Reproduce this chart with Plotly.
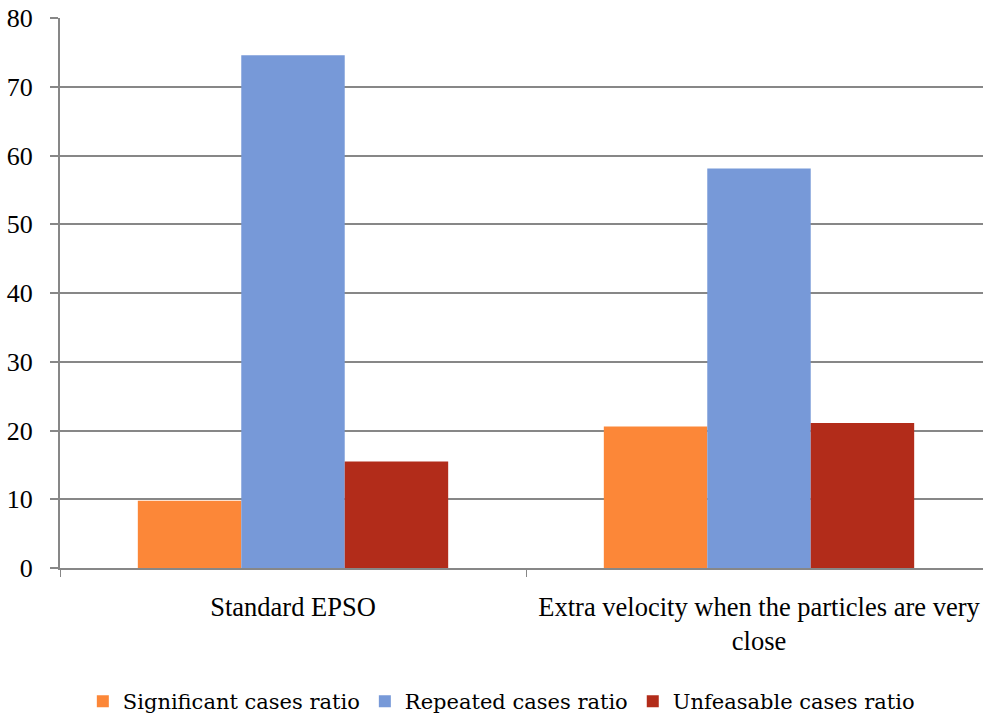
import plotly.graph_objects as go

# Ratios (%) for each EPSO variant
categories = ["Standard EPSO", "Extra velocity when the particles are very<br>close"]
series_names = ["Significant cases ratio", "Repeated cases ratio", "Unfeasable cases ratio"]
significant = [9.8, 20.6]
repeated = [74.6, 58.1]
unfeasable = [15.5, 21.1]
series_values = [significant, repeated, unfeasable]
series_colors = ["#FC8738", "#7799D8", "#B22C1A"]
y_ticks = [0, 10, 20, 30, 40, 50, 60, 70, 80]

GRID = "#878787"

fig = go.Figure()
for name, vals, color in zip(series_names, series_values, series_colors):
    fig.add_trace(go.Bar(
        x=categories, y=vals, name=name,
        marker=dict(color=color, line=dict(width=0)),
    ))

W, H = 983, 722
ml, mr, mt, mb = 60, 0, 18, 154
plot_w = W - ml - mr
plot_h = H - mt - mb
cat_px = 466  # pixel width of one category slot

fig.update_layout(
    width=W, height=H,
    margin=dict(l=ml, r=mr, t=mt, b=mb, pad=0),
    paper_bgcolor="white", plot_bgcolor="white",
    barmode="group", bargap=0.334, bargroupgap=0,
    font=dict(family="Times New Roman", size=26, color="black"),
    showlegend=True,
    legend=dict(
        orientation="h", xref="container", yref="container",
        x=0.51, xanchor="center", y=0.0, yanchor="bottom",
        font=dict(family="DejaVu Serif", size=21, color="black"),
        itemwidth=30, tracegroupgap=0, traceorder="normal",
    ),
)

fig.update_xaxes(
    type="category",
    range=[-0.5, -0.5 + plot_w / cat_px],
    showline=True, linecolor=GRID, linewidth=2,
    ticks="outside", tickson="boundaries", ticklen=7, tickcolor=GRID, tickwidth=1.3,
    showgrid=False, zeroline=False,
    tickfont=dict(family="serif", size=26.5, color="black"),
    ticklabelstandoff=14,
)
fig.update_yaxes(
    range=[0, 80], tickvals=y_ticks, ticktext=[str(v) for v in y_ticks],
    showline=True, linecolor=GRID, linewidth=2,
    ticks="outside", ticklen=8, tickcolor=GRID, tickwidth=1.5,
    showgrid=True, gridcolor=GRID, gridwidth=1.5, zeroline=False,
    tickfont=dict(family="'Liberation Serif'", size=26, color="black"),
    ticklabelstandoff=12,
)

fig.write_html("out.html")
